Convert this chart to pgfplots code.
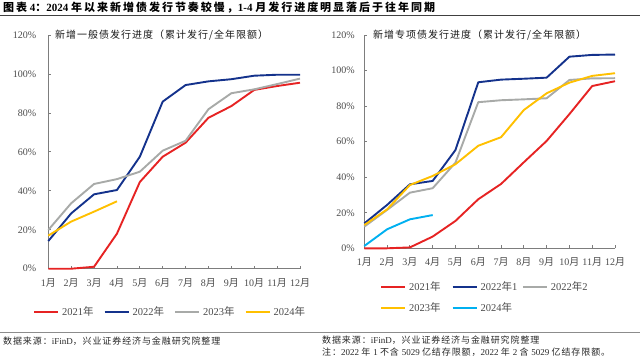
\documentclass[border=0pt]{standalone}
\usepackage{fontspec}
\setmainfont{Liberation Serif}
\newfontfamily\zhf{Noto Sans CJK SC}
\newfontfamily\zhtitle[LetterSpace=18]{Noto Sans CJK SC}
\newfontfamily\zhsub[LetterSpace=10]{Noto Sans CJK SC}
\newfontfamily\zhfoot[LetterSpace=10]{Noto Sans CJK SC}
\newcommand{\zh}[1]{{\zhf #1}}
\usepackage{pgfplots}
\pgfplotsset{compat=1.18}

\definecolor{cred}{RGB}{230,35,35}
\definecolor{cblue}{RGB}{20,50,140}
\definecolor{cgray}{RGB}{168,170,168}
\definecolor{cyellow}{RGB}{255,192,0}
\definecolor{ccyan}{RGB}{0,176,240}
\definecolor{axisgray}{RGB}{125,125,125}
\definecolor{ticktext}{RGB}{75,75,75}

\pgfplotsset{
 mystyle/.style={
  scale only axis,
  axis x line*=bottom, axis y line*=left,
  axis line style={draw=axisgray, line width=0.9bp, -},
  xmin=1, xmax=12, ymin=0, ymax=120,
  xtick={1,...,12}, ytick={0,20,...,120},
  xticklabels={1\zh{月},2\zh{月},3\zh{月},4\zh{月},5\zh{月},6\zh{月},7\zh{月},8\zh{月},9\zh{月},10\zh{月},11\zh{月},12\zh{月}},
  yticklabels={0\%,20\%,40\%,60\%,80\%,100\%,120\%},
  tick align=inside, major tick length=3bp,
  tick style={draw=axisgray, line width=0.8bp},
  ticklabel style={font=\fontsize{10bp}{12bp}\selectfont, text=ticktext},
  every x tick label/.append style={inner sep=0pt, anchor=center},
  every y tick label/.append style={inner sep=0pt, anchor=east},
  legend style={draw=none, fill=none, inner sep=0pt, row sep=11bp,
    font=\fontsize{10.5bp}{12bp}\selectfont, text=ticktext,
    nodes={inner sep=0pt},
    /tikz/every odd column/.append style={column sep=3bp}},
  legend cell align=left,
  legend image code/.code={\draw[#1, line width=2bp] (0bp,0bp) -- (24bp,0bp);},
  every axis plot/.append style={line width=1.9bp, line join=round, no markers},
  clip=false,
 }
}

\begin{document}
\begin{tikzpicture}
\path[use as bounding box] (0,0) rectangle (640bp,-361bp);

% title
\node[anchor=west, inner sep=0pt] at (3bp,-7.5bp) {\fontsize{11bp}{13bp}\selectfont\bfseries
 {\zhtitle 图表}\ 4{\zhtitle ：}2024 {\zhtitle 年以来新增债发行节奏较慢，}1-4 {\zhtitle 月发行进度明显落后于往年同期}};
\draw[draw=black!75, line width=1bp] (0bp,-15bp) -- (640bp,-15bp);

% footer
\draw[draw=black!45, line width=0.8bp] (0bp,-332.5bp) -- (640bp,-332.5bp);
\node[anchor=west, inner sep=0pt, text=black!85] at (3bp,-341bp) {\fontsize{9bp}{11bp}\selectfont
 {\zhfoot 数据来源：}iFinD{\zhfoot ，兴业证券经济与金融研究院整理}};
\node[anchor=west, inner sep=0pt, text=black!85] at (322bp,-340bp) {\fontsize{9bp}{11bp}\selectfont
 {\zhfoot 数据来源：}iFinD{\zhfoot ，兴业证券经济与金融研究院整理}};
\node[anchor=west, inner sep=0pt, text=black!85] at (322bp,-352.5bp) {\fontsize{9bp}{11bp}\selectfont
 {\zhfoot 注：}2022 {\zhfoot 年 }1 {\zhfoot 不含 }5029 {\zhfoot 亿结存限额，}2022 {\zhfoot 年 }2 {\zhfoot 含 }5029 {\zhfoot 亿结存限额。}};

% subtitles
\node[anchor=west, inner sep=0pt, text=black!90] at (55bp,-35bp) {\fontsize{10bp}{12bp}\selectfont\zhsub 新增一般债发行进度（累计发行/全年限额）};
\node[anchor=west, inner sep=0pt, text=black!90] at (373bp,-35bp) {\fontsize{10bp}{12bp}\selectfont\zhsub 新增专项债发行进度（累计发行/全年限额）};

% left chart
\begin{axis}[mystyle,
  at={(48.3bp,-268.7bp)}, anchor=south west,
  width=251.7bp, height=233.7bp,
  every x tick label/.append style={yshift=-14.6bp},
  every y tick label/.append style={xshift=-12bp},
  legend columns=4,
  legend style={at={(-0.0608,-0.184)}, anchor=west,
    /tikz/every even column/.append style={column sep=10bp}},
]
\addplot[cred] coordinates {(1,0)(2,0)(3,1)(4,18)(5,44.5)(6,57.5)(7,64.7)(8,77.5)(9,83.5)(10,91.8)(11,93.8)(12,95.5)};
\addlegendentry{2021\zh{年}}
\addplot[cblue] coordinates {(1,14.2)(2,28.4)(3,38.2)(4,40.4)(5,57.5)(6,85.8)(7,94.3)(8,96.2)(9,97.3)(10,99.1)(11,99.6)(12,99.6)};
\addlegendentry{2022\zh{年}}
\addplot[cgray] coordinates {(1,19.9)(2,33.6)(3,43.5)(4,46)(5,49.8)(6,60.6)(7,65.7)(8,81.9)(9,90.1)(10,92.1)(11,94.8)(12,97.6)};
\addlegendentry{2023\zh{年}}
\addplot[cyellow] coordinates {(1,17)(2,24.2)(3,29.3)(4,34.6)};
\addlegendentry{2024\zh{年}}
\end{axis}

% right chart
\begin{axis}[mystyle,
  at={(364.3bp,-248.3bp)}, anchor=south west,
  width=250.7bp, height=213.3bp,
  every x tick label/.append style={yshift=-13.4bp},
  every y tick label/.append style={xshift=-9.3bp},
  legend columns=3,
  legend style={at={(0.0626,-0.1542)}, anchor=north west,
    /tikz/column 2/.append style={column sep=11bp},
    /tikz/column 4/.append style={column sep=4.5bp}},
]
\addplot[cred] coordinates {(1,0)(2,0)(3,0.5)(4,6.6)(5,15.4)(6,27.6)(7,36.2)(8,48.4)(9,60.4)(10,75.5)(11,91.3)(12,94)};
\addlegendentry{2021\zh{年}}
\addplot[cblue] coordinates {(1,14)(2,24.4)(3,36)(4,37.9)(5,55.3)(6,93.4)(7,94.9)(8,95.4)(9,96)(10,107.8)(11,108.8)(12,109)};
\addlegendentry{2022\zh{年}1}
\addplot[cgray] coordinates {(1,12.2)(2,21.6)(3,31.3)(4,33.8)(5,48.2)(6,82.2)(7,83.3)(8,83.8)(9,84.4)(10,94.7)(11,95.6)(12,95.7)};
\addlegendentry{2022\zh{年}2}
\addplot[cyellow] coordinates {(1,13.1)(2,21.9)(3,35.6)(4,40.7)(5,47.3)(6,57.7)(7,62.5)(8,77.8)(9,87.2)(10,93.2)(11,97)(12,98.5)};
\addlegendentry{2023\zh{年}}
\addplot[ccyan] coordinates {(1,1.3)(2,10.7)(3,16.3)(4,18.7)};
\addlegendentry{2024\zh{年}}
\end{axis}
\end{tikzpicture}
\end{document}
